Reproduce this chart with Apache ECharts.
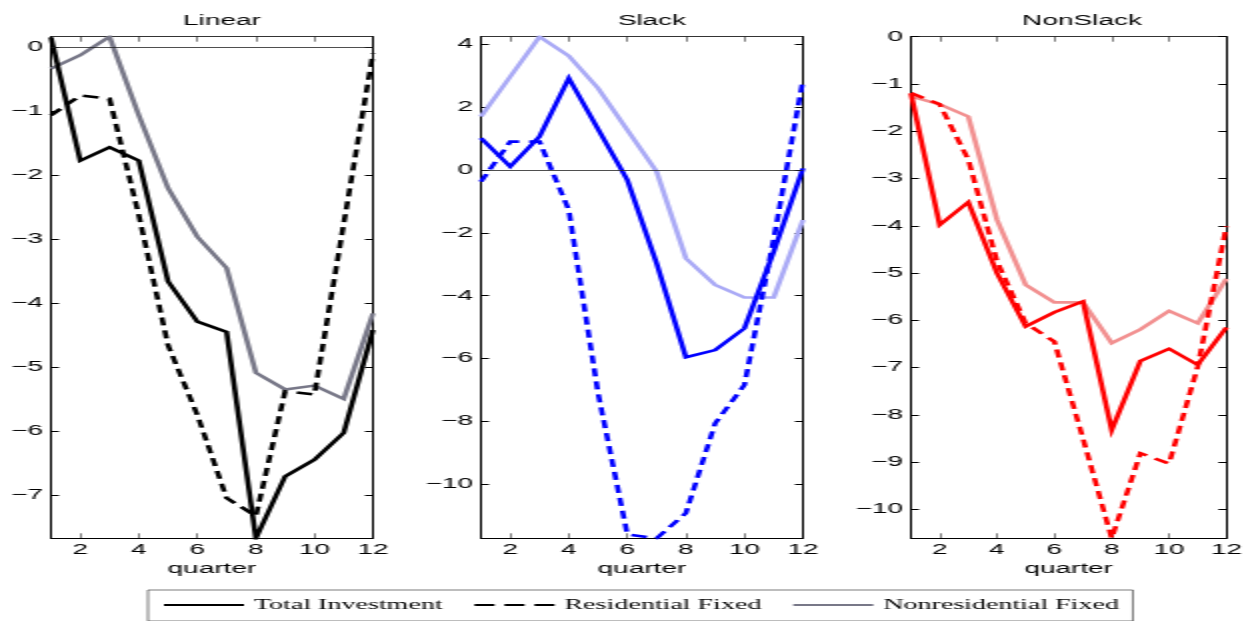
<!DOCTYPE html>
<html>
<head>
<meta charset="utf-8">
<script src="https://cdn.jsdelivr.net/npm/echarts@6/dist/echarts.min.js"></script>
<style>
  html, body { margin: 0; padding: 0; background: #fff; overflow: hidden; }
  #chart { width: 624px; height: 621px; transform: scaleX(2); transform-origin: 0 0; }
</style>
</head>
<body>
<div id="chart"></div>
<script>
// ---- data ----
const quarters = [1, 2, 3, 4, 5, 6, 7, 8, 9, 10, 11, 12];
const xTicks = [2, 4, 6, 8, 10, 12];
const panelTitles = ['Linear', 'Slack', 'NonSlack'];
const seriesNames = ['Total Investment', 'Residential Fixed', 'Nonresidential Fixed'];

const linearTotal = [0.16, -1.77, -1.56, -1.77, -3.66, -4.29, -4.45, -7.68, -6.71, -6.45, -6.03, -4.42];
const linearResidential = [-1.06, -0.75, -0.80, -2.62, -4.66, -5.75, -7.05, -7.33, -5.38, -5.43, -2.76, -0.09];
const linearNonres = [-0.33, -0.12, 0.17, -1.06, -2.20, -2.96, -3.45, -5.09, -5.35, -5.29, -5.50, -4.16];

const slackTotal = [1.01, 0.11, 1.06, 2.92, 1.30, -0.32, -2.97, -5.96, -5.73, -5.04, -2.60, 0.05];
const slackResidential = [-0.37, 0.90, 0.90, -1.27, -7.10, -11.60, -11.72, -10.92, -8.06, -6.84, -2.20, 2.86];
const slackNonres = [1.70, 2.97, 4.24, 3.63, 2.60, 1.27, -0.05, -2.81, -3.66, -4.06, -4.06, -1.59];

const nonslackTotal = [-1.20, -3.98, -3.50, -5.00, -6.13, -5.83, -5.60, -8.32, -6.86, -6.60, -6.94, -6.15];
const nonslackResidential = [-1.19, -1.43, -2.60, -4.75, -6.06, -6.45, -8.50, -10.61, -8.81, -9.03, -6.98, -4.01];
const nonslackNonres = [-1.26, -1.43, -1.69, -3.87, -5.25, -5.62, -5.62, -6.48, -6.19, -5.80, -6.06, -5.12];

const yRanges = [[-7.68, 0.17], [-11.72, 4.24], [-10.61, 0]];
const yTicks = [
  [-7, -6, -5, -4, -3, -2, -1, 0],
  [-10, -8, -6, -4, -2, 0, 2, 4],
  [-10, -9, -8, -7, -6, -5, -4, -3, -2, -1, 0]
];
const panelData = [
  [linearTotal, linearResidential, linearNonres],
  [slackTotal, slackResidential, slackNonres],
  [nonslackTotal, nonslackResidential, nonslackNonres]
];
const panelColors = [
  ['#000000', '#000000', '#787888'],
  ['#0000ff', '#0000ff', '#aaaaf6'],
  ['#ff0000', '#ff0000', '#f29090']
];
const zeroLine = [true, true, false];

// ---- layout (chart drawn at half width, stretched 2x horizontally) ----
const gridLefts = [25.5, 240.5, 455.5];
const gridWidth = 161;
const gridTop = 36.7;
const gridHeight = 501.6;

const fontSans = 'Liberation Sans, Arial, sans-serif';
const minus = v => String(v).replace('-', '\u2212');

const chart = echarts.init(document.getElementById('chart'), null, { renderer: 'canvas' });

const grids = [], xAxes = [], yAxes = [], titles = [], series = [];
for (let p = 0; p < 3; p++) {
  grids.push({ left: gridLefts[p], top: gridTop, width: gridWidth, height: gridHeight, containLabel: false });
  titles.push({
    text: panelTitles[p],
    left: gridLefts[p] + gridWidth / 2,
    top: 9,
    textAlign: 'center',
    textStyle: { fontFamily: fontSans, fontSize: 14, fontWeight: 'normal', color: '#000' }
  });
  xAxes.push({
    type: 'value', gridIndex: p, position: 'bottom', min: 1, max: 12,
    name: 'quarter', nameLocation: 'middle', nameGap: 23,
    nameTextStyle: { fontFamily: fontSans, fontSize: 14, color: '#000' },
    axisLine: { show: true, onZero: false, lineStyle: { color: '#000', width: 1 } },
    axisTick: { show: true, inside: true, length: 5, customValues: xTicks, lineStyle: { color: '#000', width: 0.5 } },
    axisLabel: { show: true, customValues: xTicks, margin: 5, fontFamily: fontSans, fontSize: 14, color: '#000' },
    splitLine: { show: false }
  });
  xAxes.push({
    type: 'value', gridIndex: p, position: 'top', min: 1, max: 12,
    axisLine: { show: true, onZero: false, lineStyle: { color: '#000', width: 0.8 } },
    axisTick: { show: true, inside: true, length: 5, customValues: xTicks, lineStyle: { color: '#000', width: 0.5 } },
    axisLabel: { show: false },
    splitLine: { show: false }
  });
  yAxes.push({
    type: 'value', gridIndex: p, position: 'left', min: yRanges[p][0], max: yRanges[p][1],
    axisLine: { show: true, onZero: false, lineStyle: { color: '#000', width: 1 } },
    axisTick: { show: true, inside: true, length: 4, customValues: yTicks[p], lineStyle: { color: '#000', width: 1 } },
    axisLabel: { show: true, customValues: yTicks[p], margin: 4, formatter: minus, fontFamily: fontSans, fontSize: 14, color: '#000' },
    splitLine: { show: false }
  });
  yAxes.push({
    type: 'value', gridIndex: p, position: 'right', min: yRanges[p][0], max: yRanges[p][1],
    axisLine: { show: true, onZero: false, lineStyle: { color: '#000', width: 1 } },
    axisTick: { show: true, inside: true, length: 4, customValues: yTicks[p], lineStyle: { color: '#000', width: 1 } },
    axisLabel: { show: false },
    splitLine: { show: false }
  });
  for (let s = 0; s < 3; s++) {
    const vals = panelData[p][s];
    const ser = {
      type: 'line',
      name: seriesNames[s],
      xAxisIndex: 2 * p,
      yAxisIndex: 2 * p,
      data: quarters.map((q, i) => [q, vals[i]]),
      symbol: 'none',
      showSymbol: false,
      animation: false,
      color: panelColors[p][s],
      lineStyle: { color: panelColors[p][s], width: 2.6, type: s === 1 ? [8, 5] : 'solid', cap: 'butt', join: 'miter' },
      z: s === 2 ? 2 : (s === 1 ? 3 : 4)
    };
    if (s === 0 && zeroLine[p]) {
      ser.markLine = {
        silent: true, symbol: 'none', animation: false,
        label: { show: false },
        lineStyle: { color: '#222', width: 0.8, type: 'solid' },
        data: [{ yAxis: 0 }]
      };
    }
    series.push(ser);
  }
}

const option = {
  backgroundColor: '#fff',
  animation: false,
  title: titles,
  grid: grids,
  xAxis: xAxes,
  yAxis: yAxes,
  legend: {
    data: [
      { name: seriesNames[0] },
      { name: seriesNames[1], lineStyle: { type: [10, 5] } },
      { name: seriesNames[2] }
    ],
    left: 74,
    top: 590,
    width: 494.5,
    padding: [8, 7, 9, 7],
    itemGap: 15,
    itemWidth: 40,
    itemHeight: 14,
    borderColor: '#444',
    borderWidth: 0.7,
    backgroundColor: '#fff',
    itemStyle: { opacity: 0 },
    lineStyle: { width: 2 },
    textStyle: { fontFamily: 'Liberation Serif, DejaVu Serif, serif', fontSize: 14, color: '#000' }
  },
  series: series
};
chart.setOption(option);
</script>
</body>
</html>
